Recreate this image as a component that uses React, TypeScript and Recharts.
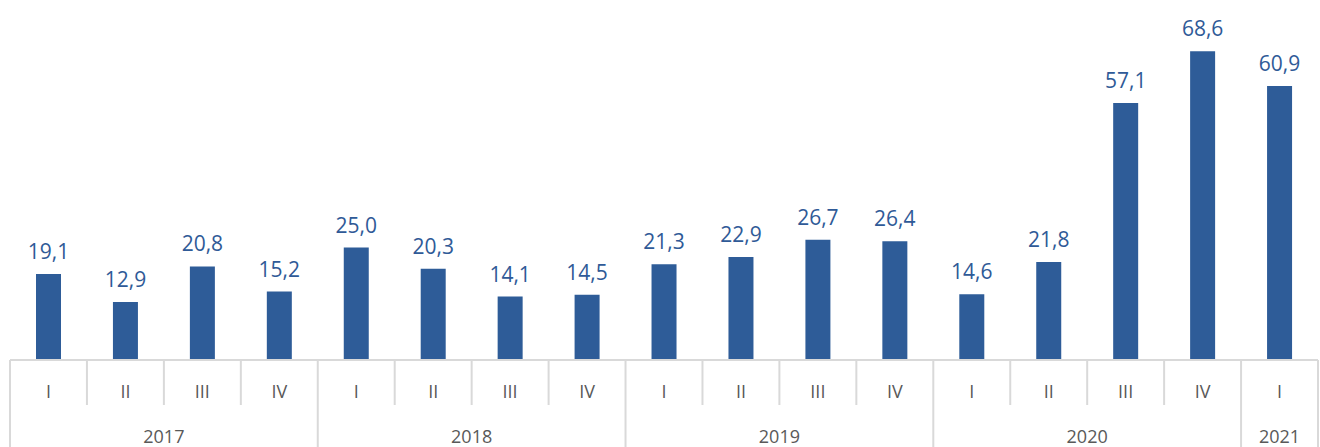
import { Bar, BarChart, XAxis, YAxis, LabelList } from 'recharts';

const quarters = ['I', 'II', 'III', 'IV', 'I', 'II', 'III', 'IV', 'I', 'II', 'III', 'IV', 'I', 'II', 'III', 'IV', 'I'];
const years = ['2017', '2017', '2017', '2017', '2018', '2018', '2018', '2018', '2019', '2019', '2019', '2019', '2020', '2020', '2020', '2020', '2021'];
const values = [19.1, 12.9, 20.8, 15.2, 25.0, 20.3, 14.1, 14.5, 21.3, 22.9, 26.7, 26.4, 14.6, 21.8, 57.1, 68.6, 60.9];

const W = 1320;
const H = 447;
const M = { top: 0, right: 2, left: 10, bottom: 0 };
const AXIS_H = 87;
const AXIS_TOP = H - M.bottom - AXIS_H;
const BAND = (W - M.left - M.right) / values.length;
const FONT = '"Open Sans", "Noto Sans", sans-serif';
const GRID = '#d9d9d9';

const data = values.map((v, i) => ({ name: `${years[i]}-${quarters[i]}`, q: quarters[i], year: years[i], value: v }));

function Tick(props: any) {
    const { x, index } = props;
    const left = x - BAND / 2;
    const yearStart = index === 0 || years[index] !== years[index - 1];
    const last = index === values.length - 1;
    let yearLabel = null;
    if (yearStart) {
        let n = 0;
        while (index + n < years.length && years[index + n] === years[index]) n++;
        yearLabel = (
            <text x={left + (n * BAND) / 2} y={AXIS_TOP + 83} textAnchor="middle" fill="#595959" fontSize={18} fontFamily={FONT}>
                {years[index]}
            </text>
        );
    }
    return (
        <g>
            <line x1={left} x2={left} y1={AXIS_TOP} y2={yearStart ? H : AXIS_TOP + 45} stroke={GRID} strokeWidth={2} />
            {last && <line x1={left + BAND} x2={left + BAND} y1={AXIS_TOP} y2={H} stroke={GRID} strokeWidth={2} />}
            <text x={x} y={AXIS_TOP + 38} textAnchor="middle" fill="#595959" fontSize={18} fontFamily={FONT}>
                {quarters[index]}
            </text>
            {yearLabel}
        </g>
    );
}

export default function App() {
    return (
        <div style={{ position: 'absolute', left: 0, top: 0, background: '#fff' }}>
            <BarChart width={W} height={H} data={data} margin={M}>
                <XAxis
                    dataKey="name"
                    height={AXIS_H}
                    interval={0}
                    tickLine={false}
                    axisLine={{ stroke: GRID, strokeWidth: 2 }}
                    tick={<Tick />}
                />
                <YAxis hide domain={[0, 80]} />
                <Bar dataKey="value" fill="#2E5C98" barSize={25} isAnimationActive={false}>
                    <LabelList
                        dataKey="value"
                        position="top"
                        offset={15}
                        fill="#2F5A97"
                        fontSize={21}
                        fontFamily={FONT}
                        formatter={(v: any) => Number(v).toFixed(1).replace('.', ',')}
                    />
                </Bar>
            </BarChart>
        </div>
    );
}
